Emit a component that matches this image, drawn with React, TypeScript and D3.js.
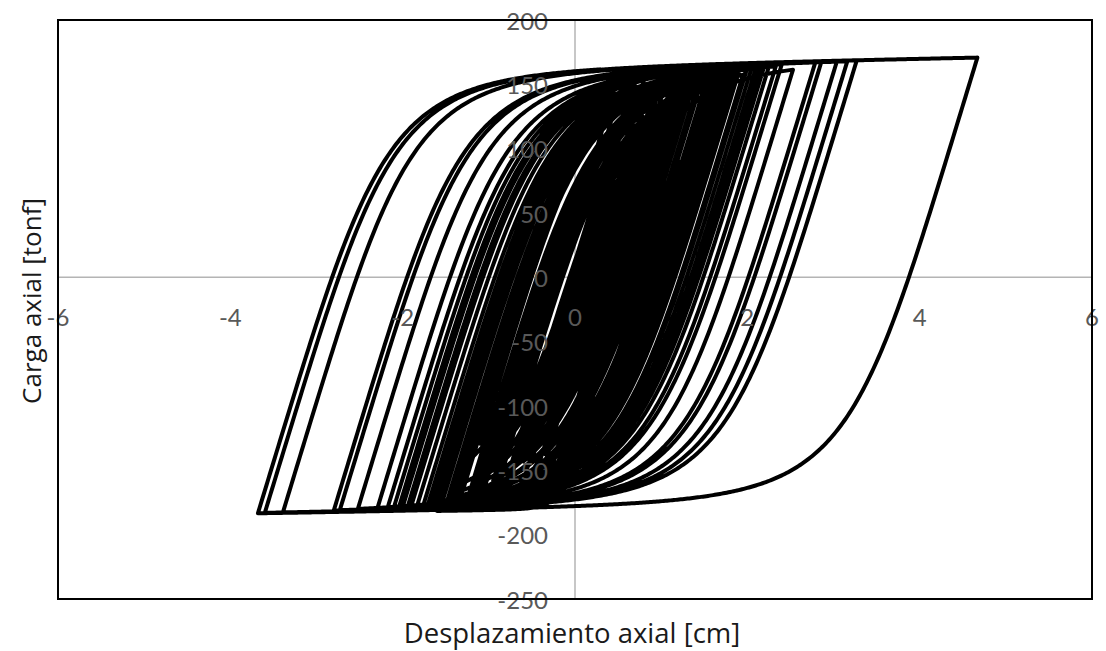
import { useEffect, useRef } from 'react';
import * as d3 from 'd3';

const width = 1106;
const height = 651;

const xTicks = [-6, -4, -2, 0, 2, 4, 6];
const yTicks = [200, 150, 100, 50, 0, -50, -100, -150, -200, -250];

// displacement at each load reversal [cm], in the order they happen
const earlyReversals = [
  0.35, -0.3, 0.55, -0.45, 0.8, -0.6, 1.0, -0.85, 0.7, -0.5, 1.1, -0.95, 0.9, -0.7,
];
const midReversals = [
  1.25, -1.05, 1.45, -1.2, 0.6, -0.9, 1.3, -0.5, 1.6, -0.95, 0.75, -1.15,
  1.35, -1.4, 1.05, -0.4, 1.75, -1.25, 0.5, -1.0, 1.55, -1.6, 0.95, -0.65,
  1.9, -1.45, 0.85, -1.3, 1.2, -0.55, 1.4, -1.7, 0.65, -0.8, 2.05, -1.35,
  1.15, -0.3, 1.65, -1.83, 0.45, -1.1, 2.15, -1.55, 1.0, -0.45, 1.8, -1.9,
  0.8, -0.75, 2.33, -1.65, 1.25, -0.6, 1.95, -2.0, 0.55, -1.2, 1.5, -1.15,
  1.1, -0.75, 0.9, -1.3, 1.4, -0.35, 1.7, -1.76, 0.7, -0.9, 2.25, -1.5,
  1.05, -0.5, 1.7, -2.1,
];
const strongReversals = [
  1.85, 0.2, 1.6, -0.2, 0.15, -1.5, 1.9, 0.4, 1.3, -0.1, 0.05, -1.6,
  2.1, 0.1, 1.45, -0.25, 0.3, -1.25, 1.6, 0.0, 0.2, -1.45, 1.75, 0.25,
  1.0, -0.15, 0.4, -1.7, 2.0, -0.05, 1.2, -0.85, 0.35, -0.95, 1.55, 0.05,
  0.6, -1.4, 1.85, -0.2, 1.15, -0.6, 0.45, -1.05, 1.35, 0.15, 0.9, -0.35,
  0.25, -0.8, 1.5, -0.1, 0.5, -1.15, 1.25, 0.3, 0.75, -0.45,
];
const lateReversals = [
  2.53, -2.18, 2.0, -1.7, 1.85, -2.52, 2.79, -1.95, 2.2, -2.73, 2.86, -2.05,
  2.4, -2.8, 3.04, -2.3, 3.16, -3.39, 3.27, -3.6, 4.67, -3.68, 0.3,
];

// Menegotto-Pinto branch shape
const E0 = 220; // tonf/cm
const upperYield = 165;
const upperSlope = 1.3;
const lowerYield = -180;
const lowerSlope = 1.0;
const R = 3.5;

function branch(er: number, sr: number, target: number) {
  const up = target > er;
  const a = up ? upperYield : lowerYield;
  const h = up ? upperSlope : lowerSlope;
  const e0 = (a - sr + E0 * er) / (E0 - h);
  const s0 = a + h * e0;
  const b = h / E0;
  const n = Math.ceil(Math.abs(target - er) * 50) + 4;
  const pts: [number, number][] = [];
  for (let i = 1; i <= n; i++) {
    const e = er + ((target - er) * i) / n;
    const es = (e - er) / (e0 - er);
    const ss = b * es + ((1 - b) * es) / Math.pow(1 + Math.pow(Math.abs(es), R), 1 / R);
    pts.push([e, sr + ss * (s0 - sr)]);
  }
  return pts;
}

const App = () => {
  const svgRef = useRef<SVGSVGElement | null>(null);

  useEffect(() => {
    if (!svgRef.current) return;
    const svg = d3.select(svgRef.current);
    svg.selectAll('*').remove();

    const left = 58, right = 1092, top = 20, bottom = 599;
    const x = d3.scaleLinear().domain([-6, 6]).range([left, right]);
    const y = d3.scaleLinear().domain([-250, 200]).range([bottom, top]);

    // zero lines
    svg.append('line')
      .attr('x1', left).attr('x2', right)
      .attr('y1', y(0)).attr('y2', y(0))
      .attr('stroke', '#b4b4b4').attr('stroke-width', 1.5);
    svg.append('line')
      .attr('x1', x(0)).attr('x2', x(0))
      .attr('y1', top).attr('y2', bottom)
      .attr('stroke', '#b4b4b4').attr('stroke-width', 1.5);

    // hysteresis path
    const reversals = [...earlyReversals, ...midReversals, ...strongReversals, ...lateReversals];
    let pts: [number, number][] = [[0, 0]];
    let er = 0, sr = 0;
    reversals.forEach((t) => {
      const b = branch(er, sr, t);
      pts = pts.concat(b);
      er = b[b.length - 1][0];
      sr = b[b.length - 1][1];
    });

    const line = d3.line<[number, number]>()
      .x(d => x(d[0]))
      .y(d => y(d[1]));

    svg.append('path')
      .datum(pts)
      .attr('d', line)
      .attr('fill', 'none')
      .attr('stroke', '#000')
      .attr('stroke-width', 4)
      .attr('stroke-linejoin', 'round');

    // tick labels
    svg.selectAll('text.xt')
      .data(xTicks)
      .enter()
      .append('text')
      .attr('class', 'xt')
      .attr('x', d => x(d))
      .attr('y', 316)
      .attr('text-anchor', 'middle')
      .attr('dominant-baseline', 'central')
      .attr('fill', '#595959')
      .style('font', '24px Lato, sans-serif')
      .text(d => d);

    svg.selectAll('text.yt')
      .data(yTicks)
      .enter()
      .append('text')
      .attr('class', 'yt')
      .attr('x', 548)
      .attr('y', d => y(d))
      .attr('text-anchor', 'end')
      .attr('dominant-baseline', 'central')
      .attr('fill', '#595959')
      .style('font', '24px Lato, sans-serif')
      .text(d => d);

    // frame
    svg.append('rect')
      .attr('x', left).attr('y', top)
      .attr('width', right - left).attr('height', bottom - top)
      .attr('fill', 'none')
      .attr('stroke', '#000')
      .attr('stroke-width', 2);

    // titles
    svg.append('text')
      .attr('x', 572)
      .attr('y', 632)
      .attr('text-anchor', 'middle')
      .attr('dominant-baseline', 'central')
      .attr('fill', '#1a1a1a')
      .style('font', '27.5px "Open Sans", sans-serif')
      .text('Desplazamiento axial [cm]');

    svg.append('text')
      .attr('transform', 'translate(31,301) rotate(-90)')
      .attr('text-anchor', 'middle')
      .attr('dominant-baseline', 'central')
      .attr('fill', '#1a1a1a')
      .style('font', '26px "Open Sans", sans-serif')
      .text('Carga axial [tonf]');
  }, []);

  return (
    <svg
      ref={svgRef}
      width={width}
      height={height}
      style={{ position: 'absolute', left: 0, top: 0, background: '#fff' }}
    />
  );
};

export default App;
